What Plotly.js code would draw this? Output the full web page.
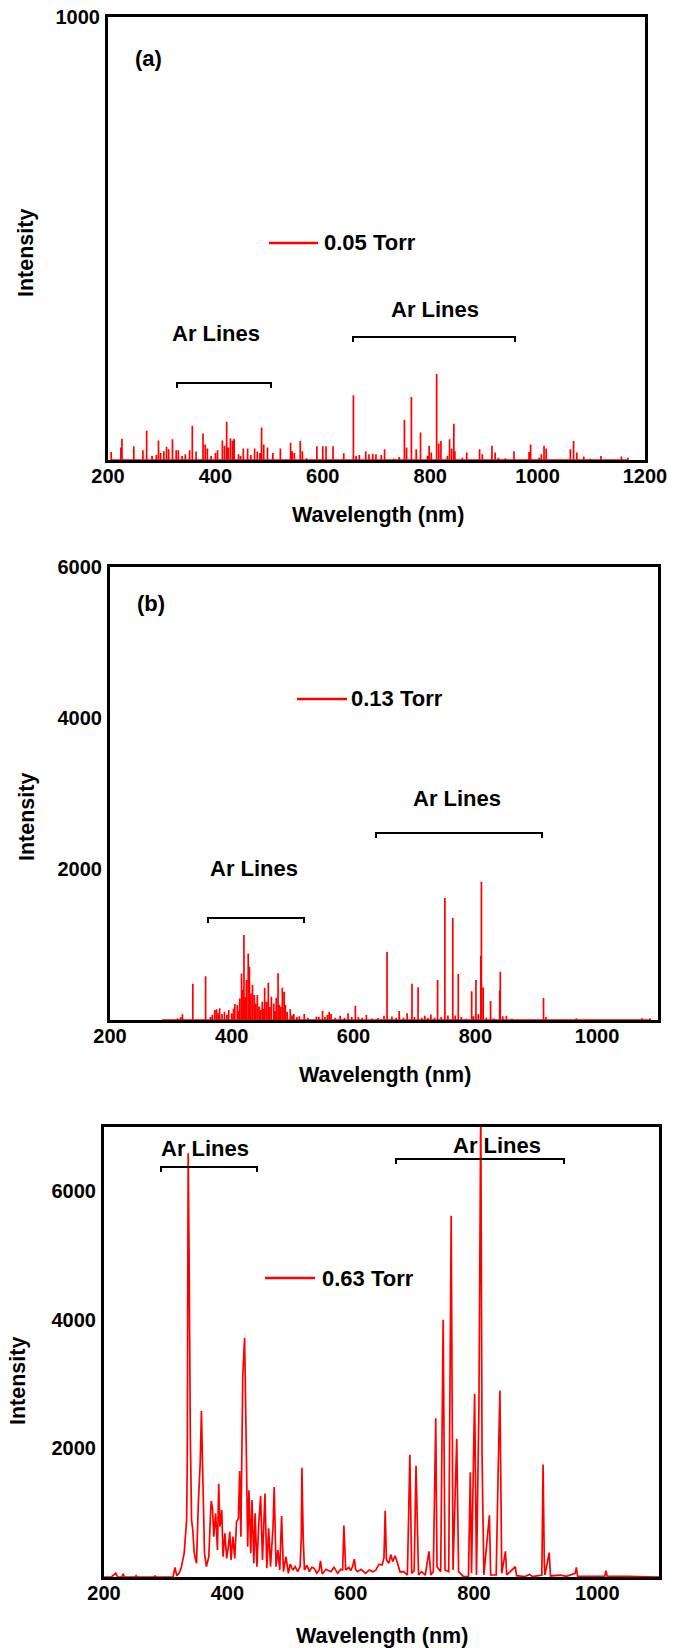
<!DOCTYPE html>
<html>
<head>
<meta charset="utf-8">
<script src="https://cdn.plot.ly/plotly-3.0.1.min.js"></script>
<style>html,body{margin:0;padding:0;background:#fff;}#chart{width:677px;height:1648px;}</style>
</head>
<body>
<div id="chart"></div>
<script>
// ---------- DATA ----------
// Panel (a) 0.05 Torr : emission line positions (nm) and peak intensities
const wlA = [206,224,226,248,265,272,282,290,294,298,304,309,313,320,327,331,338,344,352,357,364,377,381,385,392,400,404,413,417,421,424,428,432,435,443,447,452,460,466,473,478,483,486,490,497,507,521,540,543,547,558,562,570,589,600,606,619,639,657,662,668,680,686,693,699,
  709,715,732,742,752,756,765,774,782,795,798,802,812,816,820,832,836,840,844,846,860,868,892,897,915,921,927,940,956,984,987,1003,1007,1012,1016,1061,1067,1073,1086,1098,1118,1156,1168];
const intA = [18,28,48,31,22,66,9,11,44,16,20,30,24,47,22,22,9,13,22,77,19,60,35,26,9,16,22,44,32,86,28,49,44,48,13,9,26,26,11,26,19,16,73,35,28,16,26,39,20,16,43,20,4,31,31,31,31,15,146,9,11,20,13,14,13,
  11,24,3,7,91,28,142,24,62,9,32,17,194,37,43,9,47,26,82,20,5,17,24,13,32,17,5,4,20,18,35,5,13,32,26,24,43,17,8,3,9,8,5];

// Panel (b) 0.13 Torr : emission line positions (nm) and peak intensities
const wlB = [287,311,316,319,336,357,365,368,372,375,378,380,384,388,392,395,400,403,405,409,411,413,416,418,420,422,424,427,429,431,434,437,439,442,445,447,450,452,454,457,460,462,465,469,471,473,476,478,480,483,486,488,491,496,499,502,507,511,519,525,539,543,549,553,557,560,563,570,578,585,591,597,603,608,614,621,630,640,650,655,663,670,675,682,688,696,700,706,712,717,722,727,733,738,744,750,755,763,767,772,777,785,794,797,801,805,809,810,813,818,825,830,840,841,845,851,860,880,912,916,940,966,1030,1074,1087];
const intB = [9,22,35,75,480,580,40,70,132,141,90,154,80,110,70,132,88,150,211,198,120,286,617,400,1125,300,529,881,705,350,463,330,220,330,180,132,242,150,427,242,493,176,308,220,120,295,620,200,176,427,374,200,110,141,60,79,40,50,79,30,48,40,123,40,66,110,79,30,57,30,88,40,190,40,30,66,20,25,57,900,48,30,120,30,88,480,40,435,30,57,25,72,30,530,40,1615,60,1352,60,610,40,15,380,50,530,80,850,1830,430,30,250,20,390,640,50,55,15,10,292,40,10,22,8,22,22];

// Panel (c) 0.63 Torr : spectrum trace vertices (wavelength nm, intensity)
const wlC = [200,212,219,222,229,231,233,250,252,254,280,283,285,305,312,315,318,322,325,330,334,335,336.5,338,340,342,344,346,348,350,353,356,358,360,363,366,370,373,374,376,378,381,384,386,388,391,393,396,399,402,404,406,409,412,415,418,420,422,425,428,431,433,435,438,440,443,445,448,451,454,457,461,464,467,470,474,476,479,482,485,488,491,495,499,502,506,510,514,518,520,521,523,525,529,533,537,541,545,549,551,554,560,568,573,579,584,587,589,592,597,600,603,606,608,611,617,624,630,636,641,646,651,654,656,658,662,665,668,672,676,680,686,692,696,699,703,706,710,715,721,727,730,734,738,740,746,750,753,759,763,766,772,775,783,791,794,796,801,804,808,811,813,816,825,827,836,839,842,845,851,853,867,869,882,890,895,910,912,914,915,922,924,940,950,964,966,968,1012,1014,1016,1050,1100];
const intC = [0,0,60,0,0,50,0,0,20,0,0,15,0,0,0,150,20,60,135,368,887,1768,6590,4983,2183,887,731,400,290,213,1146,1768,2580,1664,368,161,316,1042,1180,1068,627,990,420,1450,783,1042,316,679,290,500,705,264,627,290,861,913,1650,627,3116,3720,1820,472,1350,368,1198,213,990,161,835,1260,264,1300,135,757,161,757,1400,161,420,109,950,83,316,57,200,109,160,83,161,627,1700,627,109,180,83,150,135,60,109,250,47,120,83,150,57,120,109,800,109,150,100,161,280,120,83,120,57,110,80,109,200,187,300,1030,264,213,350,239,330,213,80,83,31,1900,57,100,1730,31,83,31,400,31,83,2470,161,83,4000,109,83,5620,109,2150,83,5,5,1630,57,2850,31,2650,7300,1924,31,960,31,31,1550,2900,57,400,31,160,20,5,40,5,31,1750,239,31,380,16,30,10,57,150,10,10,100,10,10,0];

const xTicksA = [200,400,600,800,1000,1200];
const yTicksA = [1000];
const xTicksBC = [200,400,600,800,1000];
const yTicksBC = [2000,4000,6000];
const legendLabels = ['0.05 Torr','0.13 Torr','0.63 Torr'];
const panelLabels = ['(a)','(b)'];
const bracketLabel = 'Ar Lines';
const xTitle = 'Wavelength (nm)';
const yTitle = 'Intensity';

// ---------- BUILD ----------
function sticks(wl, inten){
  const x=[], y=[];
  wl.forEach((w,i)=>{ x.push(w,w,w); y.push(0,inten[i],0); });
  return {x, y};
}
const sA = sticks(wlA,intA), sB = sticks(wlB,intB);
const RED = '#ff0000';
const FONT = 'Liberation Sans, Arial, Helvetica, sans-serif';
const lineStyle = {color:RED, width:1.7, simplify:false};

const traces = [
  {type:'scatter', mode:'lines', x:sA.x, y:sA.y, xaxis:'x', yaxis:'y', line:lineStyle, name:legendLabels[0], showlegend:false, hoverinfo:'skip'},
  {type:'scatter', mode:'lines', x:sB.x, y:sB.y, xaxis:'x2', yaxis:'y2', line:lineStyle, name:legendLabels[1], showlegend:false, hoverinfo:'skip'},
  {type:'scatter', mode:'lines', x:wlC, y:intC, xaxis:'x3', yaxis:'y3', line:lineStyle, name:legendLabels[2], showlegend:false, hoverinfo:'skip'}
];

const tickFont = {family:FONT, size:20, color:'#000', weight:700};
function xax(domain, range, tickvals, anchor){
  return {domain, range, tickvals, ticktext:tickvals.map(String), anchor, showline:true, mirror:true, linewidth:3, linecolor:'#000',
    ticks:'', showgrid:false, zeroline:false, tickfont:tickFont, ticklabelstandoff:-4, fixedrange:true};
}
function yax(domain, range, tickvals, anchor){
  return {domain, range, tickvals, ticktext:tickvals.map(String), anchor, showline:true, mirror:true, linewidth:3, linecolor:'#000',
    ticks:'', showgrid:false, zeroline:false, tickfont:tickFont, ticklabelstandoff:1, fixedrange:true};
}

const W = 677, H = 1648;
const px = v => v / W, py = v => 1 - v / H;

const annFont = {family:FONT, size:22, color:'#000', weight:700};
const titleFont = {family:FONT, size:21.5, color:'#000', weight:700};
function ann(text, x, y, xanchor, extra){
  return Object.assign({text, x:px(x), y:py(y), xref:'paper', yref:'paper', xanchor:xanchor||'center', yanchor:'middle', showarrow:false, font:annFont, borderpad:0}, extra||{});
}
function bracket(x0, x1, y, yTick){
  return {type:'path', xref:'paper', yref:'paper',
    path:`M ${px(x0)} ${py(yTick)} L ${px(x0)} ${py(y)} L ${px(x1)} ${py(y)} L ${px(x1)} ${py(yTick)}`,
    line:{color:'#000', width:2}};
}
function legLine(x0, x1, y){
  return {type:'line', xref:'paper', yref:'paper', x0:px(x0), x1:px(x1), y0:py(y), y1:py(y), line:{color:RED, width:2.5}};
}

const annotations = [
  // panel a
  ann(panelLabels[0], 148, 58),
  ann(legendLabels[0], 323, 243, 'left'),
  ann(bracketLabel, 435, 310),
  ann(bracketLabel, 216, 334),
  ann(yTitle, 26, 253, 'center', {textangle:-90, font:titleFont}),
  ann(xTitle, 378, 515, 'center', {font:titleFont}),
  // panel b
  ann(panelLabels[1], 151, 604),
  ann(legendLabels[1], 350, 699, 'left'),
  ann(bracketLabel, 457, 798),
  ann(bracketLabel, 254, 868),
  ann(yTitle, 27, 817, 'center', {textangle:-90, font:titleFont}),
  ann(xTitle, 385, 1075, 'center', {font:titleFont}),
  // panel c
  ann(legendLabels[2], 321, 1278, 'left'),
  ann(bracketLabel, 205, 1148),
  ann(bracketLabel, 497, 1145),
  ann(yTitle, 18, 1381, 'center', {textangle:-90, font:titleFont}),
  ann(xTitle, 382, 1636, 'center', {font:titleFont})
];

const shapes = [
  legLine(269, 318, 243), bracket(353, 515, 337, 342), bracket(177, 271, 383, 388),
  legLine(297, 347, 699), bracket(376, 542, 833, 838), bracket(208, 304, 918, 923),
  legLine(265, 315, 1278), bracket(161, 257, 1167, 1172), bracket(396, 564, 1159, 1164)
];

const layout = {
  width:W, height:H, margin:{l:0,r:0,t:0,b:0,pad:0},
  paper_bgcolor:'#fff', plot_bgcolor:'#fff', showlegend:false,
  font:{family:FONT, color:'#000'},
  xaxis: xax([108/W, 645/W], [200,1200], xTicksA, 'y'),
  yaxis: yax([py(460), py(16.5)], [0,1000], yTicksA, 'x'),
  xaxis2: xax([110/W, 658/W], [200,1100], xTicksBC, 'y2'),
  yaxis2: yax([py(1020), py(567)], [0,6000], yTicksBC, 'x2'),
  xaxis3: xax([104/W, 659/W], [200,1100], xTicksBC, 'y3'),
  yaxis3: yax([py(1577), py(1127)], [0,7000], yTicksBC, 'x3'),
  annotations, shapes
};

Plotly.newPlot('chart', traces, layout, {displayModeBar:false, staticPlot:true});
</script>
</body>
</html>
